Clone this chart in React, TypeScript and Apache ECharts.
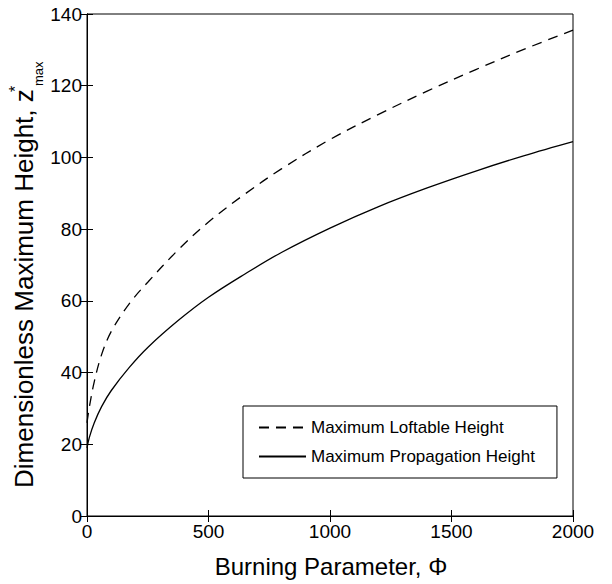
import React, { useEffect, useRef } from "react";
import * as echarts from "echarts";

const phi = [0, 10, 30, 60, 100, 175, 250, 375, 500, 650, 800, 1000, 1200, 1400, 1600, 1800, 2000];
const loftable = [26, 30.5, 37.5, 45, 51.5, 59.3, 65.2, 74.2, 82, 89.8, 96.8, 105, 112, 118.5, 124.5, 130.2, 135.5];
const propagation = [19, 22, 26, 30.5, 35, 41.5, 47, 54.5, 61, 67.5, 73.5, 80.3, 86.3, 91.5, 96.2, 100.5, 104.4];
const xTicks = { min: 0, max: 2000, interval: 500 };
const yTicks = { min: 0, max: 140, interval: 20 };
const seriesNames = ["Maximum Loftable Height", "Maximum Propagation Height"];

const FONT = "'Liberation Sans', Arial, Helvetica, sans-serif";

export default function App() {
  const ref = useRef<HTMLDivElement>(null);
  useEffect(() => {
    if (!ref.current) return;
    const chart = echarts.init(ref.current, null, { renderer: "svg" });
    const pairs = (ys: number[]) => phi.map((x, i) => [x, ys[i]]);
    const axisCommon = {
      type: "value" as const,
      splitLine: { show: false },
      axisLine: { show: true, lineStyle: { color: "#000", width: 1 } },
      axisTick: { show: true, inside: true, length: 6, lineStyle: { color: "#000", width: 1 } },
    };
    const plain = (v: number) => String(v);
    chart.setOption({
      animation: false,
      backgroundColor: "#fff",
      grid: { left: 87, right: 39, top: 14, bottom: 68, show: true, borderColor: "#000", borderWidth: 1, backgroundColor: "transparent" },
      xAxis: [
        {
          ...axisCommon,
          position: "bottom",
          ...xTicks,
          axisLabel: { color: "#000", fontSize: 19, fontFamily: FONT, margin: 6, formatter: plain },
        },
        {
          ...axisCommon,
          position: "top",
          ...xTicks,
          axisLabel: { show: false },
        },
      ],
      yAxis: [
        {
          ...axisCommon,
          position: "left",
          ...yTicks,
          axisLabel: { color: "#000", fontSize: 19, fontFamily: FONT, margin: 5, formatter: plain },
        },
        {
          ...axisCommon,
          position: "right",
          ...yTicks,
          axisLabel: { show: false },
        },
      ],
      legend: {
        orient: "vertical",
        left: 243,
        top: 406,
        itemWidth: 47,
        itemHeight: 14,
        itemGap: 12,
        borderColor: "#000",
        borderWidth: 1,
        padding: [13, 22, 13, 15],
        backgroundColor: "#fff",
        itemStyle: { opacity: 0 },
        textStyle: { color: "#000", fontSize: 17, fontFamily: FONT },
        data: seriesNames,
      },
      series: [
        {
          name: seriesNames[0],
          type: "line",
          data: pairs(loftable),
          smooth: 0.35,
          symbol: "none",
          lineStyle: { color: "#000", width: 1.3, type: [10, 7] },
          itemStyle: { color: "#000" },
        },
        {
          name: seriesNames[1],
          type: "line",
          data: pairs(propagation),
          smooth: 0.35,
          symbol: "none",
          lineStyle: { color: "#000", width: 1.3 },
          itemStyle: { color: "#000" },
        },
      ],
      graphic: [
        {
          type: "text",
          x: 331,
          y: 566,
          style: { text: "Burning Parameter, Φ", fontSize: 24, fontFamily: FONT, fill: "#000", align: "center", verticalAlign: "middle" },
        },
        {
          type: "text",
          x: 24,
          y: 488,
          rotation: Math.PI / 2,
          style: { text: "Dimensionless Maximum Height, z", fontSize: 26, fontFamily: FONT, fill: "#000", align: "left", verticalAlign: "middle" },
        },
        {
          type: "text",
          x: 38,
          y: 86,
          rotation: Math.PI / 2,
          style: { text: "max", fontSize: 13, fontFamily: FONT, fill: "#000", align: "left", verticalAlign: "middle" },
        },
        {
          type: "text",
          x: 15,
          y: 89,
          rotation: Math.PI / 2,
          style: { text: "*", fontSize: 16, fontFamily: FONT, fill: "#000", align: "center", verticalAlign: "middle" },
        },
      ],
    });
    return () => chart.dispose();
  }, []);
  return <div ref={ref} style={{ width: 612, height: 584, position: "absolute", left: 0, top: 0 }} />;
}
